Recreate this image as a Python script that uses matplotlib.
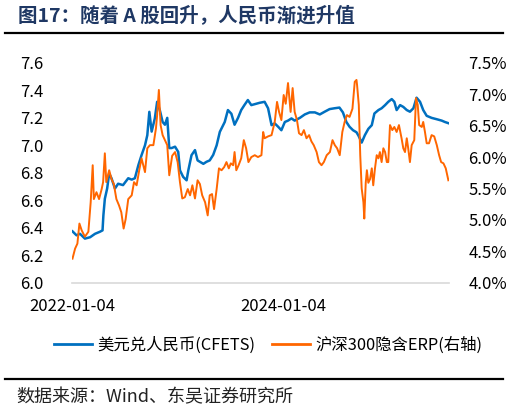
import matplotlib
matplotlib.use("Agg")
import matplotlib.pyplot as plt
import matplotlib.dates as mdates
from matplotlib.lines import Line2D
import pandas as pd

plt.rcParams['font.family'] = ['Noto Sans CJK SC', 'DejaVu Sans']

TITLE = "图17：随着 A 股回升，人民币渐进升值"
SOURCE = "数据来源：Wind、东吴证券研究所"
USD_LABEL = "美元兑人民币(CFETS)"
ERP_LABEL = "沪深300隐含ERP(右轴)"
X_TICKS = ["2022-01-04", "2024-01-04"]

usd_dates = [
    "2022-01-04", "2022-01-18", "2022-01-30", "2022-02-16", "2022-03-06", "2022-03-23",
    "2022-04-09", "2022-04-18", "2022-04-21", "2022-04-26", "2022-05-04", "2022-05-11",
    "2022-05-19", "2022-05-31", "2022-06-11", "2022-06-28", "2022-07-16", "2022-07-28",
    "2022-08-08", "2022-08-20", "2022-08-31", "2022-09-12", "2022-09-20", "2022-09-27",
    "2022-10-05", "2022-10-16", "2022-10-24", "2022-11-03", "2022-11-12", "2022-11-20",
    "2022-11-28", "2022-12-05", "2022-12-13", "2022-12-25", "2023-01-05", "2023-01-11",
    "2023-01-22", "2023-02-03", "2023-02-09", "2023-02-20", "2023-03-04", "2023-03-13",
    "2023-03-21", "2023-04-02", "2023-04-13", "2023-04-24", "2023-05-06", "2023-05-18",
    "2023-05-29", "2023-06-15", "2023-06-26", "2023-07-08", "2023-07-19", "2023-07-31",
    "2023-08-11", "2023-08-22", "2023-09-03", "2023-09-15", "2023-09-27", "2023-10-14",
    "2023-10-31", "2023-11-12", "2023-11-24", "2023-12-05", "2023-12-17", "2023-12-28",
    "2024-01-09", "2024-01-20", "2024-02-01", "2024-02-12", "2024-03-01", "2024-03-18",
    "2024-04-04", "2024-04-22", "2024-05-09", "2024-05-26", "2024-06-12", "2024-06-29",
    "2024-07-16", "2024-07-28", "2024-08-09", "2024-08-20", "2024-09-01", "2024-09-13",
    "2024-09-20", "2024-10-01", "2024-10-12", "2024-10-24", "2024-11-05", "2024-11-14",
    "2024-11-28", "2024-12-09", "2024-12-21", "2025-01-01", "2025-01-13", "2025-01-22",
    "2025-01-30", "2025-02-11", "2025-02-22", "2025-03-06", "2025-03-17", "2025-03-29",
    "2025-04-09", "2025-04-21", "2025-05-02", "2025-05-14", "2025-05-31", "2025-06-18",
    "2025-07-05", "2025-07-16", "2025-07-30",
]
usd_cny = [
    6.373, 6.344, 6.355, 6.320, 6.330, 6.355,
    6.370, 6.380, 6.490, 6.610, 6.685, 6.795,
    6.760, 6.685, 6.720, 6.710, 6.760, 6.750,
    6.760, 6.855, 6.928, 7.000, 7.074, 7.244,
    7.100, 7.196, 7.317, 7.250, 7.170, 7.150,
    7.200, 6.980, 6.980, 6.990, 6.952, 6.818,
    6.770, 6.745, 6.818, 6.928, 6.965, 6.890,
    6.880, 6.865, 6.880, 6.890, 6.930, 7.000,
    7.098, 7.170, 7.257, 7.230, 7.150, 7.200,
    7.257, 7.293, 7.330, 7.293, 7.300, 7.310,
    7.317, 7.270, 7.147, 7.160, 7.135, 7.110,
    7.170, 7.180, 7.196, 7.180, 7.200, 7.225,
    7.240, 7.240, 7.225, 7.245, 7.264, 7.270,
    7.275, 7.240, 7.170, 7.135, 7.110, 7.095,
    7.070, 7.020, 7.074, 7.120, 7.147, 7.232,
    7.257, 7.270, 7.293, 7.317, 7.337, 7.317,
    7.257, 7.293, 7.280, 7.257, 7.245, 7.270,
    7.347, 7.317, 7.257, 7.215, 7.200, 7.190,
    7.180, 7.170, 7.160,
]

erp_dates = [
    "2022-01-04", "2022-01-13", "2022-01-21", "2022-01-28", "2022-02-05", "2022-02-16",
    "2022-02-28", "2022-03-08", "2022-03-15", "2022-03-19", "2022-03-28", "2022-04-06",
    "2022-04-15", "2022-04-20", "2022-04-26", "2022-05-01", "2022-05-11", "2022-05-19",
    "2022-05-27", "2022-06-05", "2022-06-14", "2022-06-22", "2022-06-30", "2022-07-07",
    "2022-07-16", "2022-07-28", "2022-08-05", "2022-08-14", "2022-08-23", "2022-08-31",
    "2022-09-12", "2022-09-20", "2022-09-29", "2022-10-11", "2022-10-20", "2022-10-24",
    "2022-10-30", "2022-11-05", "2022-11-12", "2022-11-20", "2022-11-28", "2022-12-05",
    "2022-12-15", "2022-12-25", "2023-01-03", "2023-01-11", "2023-01-19", "2023-01-28",
    "2023-02-07", "2023-02-15", "2023-02-23", "2023-03-04", "2023-03-13", "2023-03-21",
    "2023-03-29", "2023-04-08", "2023-04-17", "2023-04-24", "2023-05-02", "2023-05-09",
    "2023-05-18", "2023-05-26", "2023-06-04", "2023-06-13", "2023-06-21", "2023-06-29",
    "2023-07-06", "2023-07-14", "2023-07-19", "2023-07-25", "2023-08-02", "2023-08-11",
    "2023-08-20", "2023-08-28", "2023-09-05", "2023-09-15", "2023-09-27", "2023-10-08",
    "2023-10-20", "2023-10-26", "2023-10-31", "2023-11-12", "2023-11-24", "2023-12-05",
    "2023-12-13", "2023-12-20", "2023-12-28", "2024-01-05", "2024-01-12", "2024-01-20",
    "2024-01-29", "2024-02-05", "2024-02-12", "2024-02-20", "2024-02-27", "2024-03-07",
    "2024-03-15", "2024-03-24", "2024-04-02", "2024-04-10", "2024-04-18", "2024-04-28",
    "2024-05-06", "2024-05-15", "2024-05-23", "2024-06-02", "2024-06-13", "2024-06-22",
    "2024-06-30", "2024-07-08", "2024-07-17", "2024-07-26", "2024-08-03", "2024-08-11",
    "2024-08-20", "2024-08-30", "2024-09-07", "2024-09-13", "2024-09-15", "2024-09-21",
    "2024-09-26", "2024-10-01", "2024-10-07", "2024-10-10", "2024-10-15", "2024-10-19",
    "2024-10-24", "2024-10-30", "2024-11-05", "2024-11-10", "2024-11-16", "2024-11-22",
    "2024-11-28", "2024-12-03", "2024-12-09", "2024-12-15", "2024-12-21", "2024-12-27",
    "2025-01-01", "2025-01-07", "2025-01-15", "2025-01-22", "2025-01-30", "2025-02-07",
    "2025-02-16", "2025-02-22", "2025-02-28", "2025-03-06", "2025-03-11", "2025-03-17",
    "2025-03-23", "2025-04-01", "2025-04-07", "2025-04-13", "2025-04-18", "2025-04-27",
    "2025-05-02", "2025-05-08", "2025-05-14", "2025-05-22", "2025-05-31", "2025-06-09",
    "2025-06-18", "2025-06-26", "2025-07-03", "2025-07-11", "2025-07-19", "2025-07-28",
]
erp_pct = [
    4.38, 4.54, 4.62, 4.94, 4.83, 4.73,
    4.81, 5.28, 5.87, 5.33, 5.44, 5.33,
    5.49, 5.60, 6.06, 5.60, 5.79, 5.65,
    5.57, 5.33, 5.23, 5.12, 4.86, 5.01,
    5.33, 5.39, 5.60, 5.55, 5.79, 5.98,
    5.76, 6.14, 6.19, 6.19, 6.46, 6.67,
    7.07, 6.51, 6.35, 6.27, 6.19, 5.71,
    6.02, 6.08, 5.92, 5.60, 5.34, 5.36,
    5.49, 5.39, 5.55, 5.34, 5.63, 5.57,
    5.39, 5.28, 5.07, 5.39, 5.41, 5.17,
    5.49, 5.82, 5.79, 5.84, 5.92, 5.82,
    5.90, 5.87, 6.08, 5.79, 5.87, 5.98,
    6.27, 6.14, 5.92, 6.00, 6.03, 6.00,
    6.03, 6.40, 6.30, 6.33, 6.35, 6.56,
    6.88, 6.72, 6.59, 6.99, 6.85, 7.18,
    6.72, 7.10, 6.72, 6.59, 6.38, 6.35,
    6.43, 6.30, 6.35, 6.25, 6.19, 6.08,
    5.92, 5.87, 5.92, 6.03, 6.08, 6.27,
    6.19, 6.14, 6.03, 6.40, 6.56, 6.67,
    6.64, 6.77, 7.20, 7.23, 7.15, 6.83,
    6.03, 5.50, 5.28, 5.02, 5.59, 5.79,
    5.59, 5.65, 5.82, 5.55, 5.82, 6.03,
    5.98, 6.08, 5.92, 6.14, 6.08, 5.92,
    5.92, 6.51, 6.43, 6.48, 6.40, 6.51,
    6.30, 6.14, 6.08, 6.30, 6.14, 5.92,
    6.19, 6.27, 6.94, 6.83, 6.51, 6.48,
    6.56, 6.40, 6.22, 6.22, 6.35, 6.33,
    6.19, 6.03, 5.92, 5.90, 5.82, 5.63,
]

BLUE = "#0070C0"
ORANGE = "#FF6600"

usd_x = pd.to_datetime(usd_dates)
erp_x = pd.to_datetime(erp_dates)

fig = plt.figure(figsize=(5.09, 4.12), dpi=100)
ax = fig.add_axes([0.1424, 0.3143, 0.7396, 0.5328])
ax2 = ax.twinx()

ax.plot(usd_x, usd_cny, color=BLUE, lw=1.8)
ax2.plot(erp_x, erp_pct, color=ORANGE, lw=1.4)

ax.set_ylim(6.0, 7.6)
ax.set_yticks([6.0 + 0.2 * i for i in range(9)])
ax.yaxis.set_major_formatter(plt.FormatStrFormatter("%.1f"))
ax2.set_ylim(4.0, 7.5)
ax2.set_yticks([4.0 + 0.5 * i for i in range(8)])
ax2.yaxis.set_major_formatter(plt.FormatStrFormatter("%.1f%%"))

ax.set_xlim(usd_x[0], usd_x[-1])
ax.set_xticks(pd.to_datetime(X_TICKS))
ax.xaxis.set_major_formatter(mdates.DateFormatter("%Y-%m-%d"))

for a in (ax, ax2):
    for s in a.spines.values():
        s.set_visible(False)
    a.tick_params(length=0, labelsize=12, colors="#000000")
ax.spines["bottom"].set_visible(True)
ax.spines["bottom"].set_color("#D9D9D9")
ax.spines["bottom"].set_linewidth(1.2)
ax.tick_params(axis="y", pad=21)
ax2.tick_params(axis="y", pad=14)
ax.tick_params(axis="x", pad=11)

handles = [Line2D([], [], color=BLUE, lw=2), Line2D([], [], color=ORANGE, lw=2)]
fig.legend(handles, [USD_LABEL, ERP_LABEL], loc="center", bbox_to_anchor=(0.527, 0.163),
           ncol=2, frameon=False, fontsize=11.8, handlelength=2.3, handletextpad=0.35,
           columnspacing=1.0)

fig.text(0.035, 0.963, TITLE, fontsize=14, fontweight="bold", color="#1F3864",
         va="center", ha="left")
fig.add_artist(Line2D([0.01, 0.988], [0.919, 0.919], color="black", lw=1.6))
fig.add_artist(Line2D([0.01, 0.988], [0.079, 0.079], color="black", lw=1.6))
fig.text(0.033, 0.036, SOURCE, fontsize=13, color="#222222", va="center", ha="left")

fig.savefig("out.png", dpi=100)
